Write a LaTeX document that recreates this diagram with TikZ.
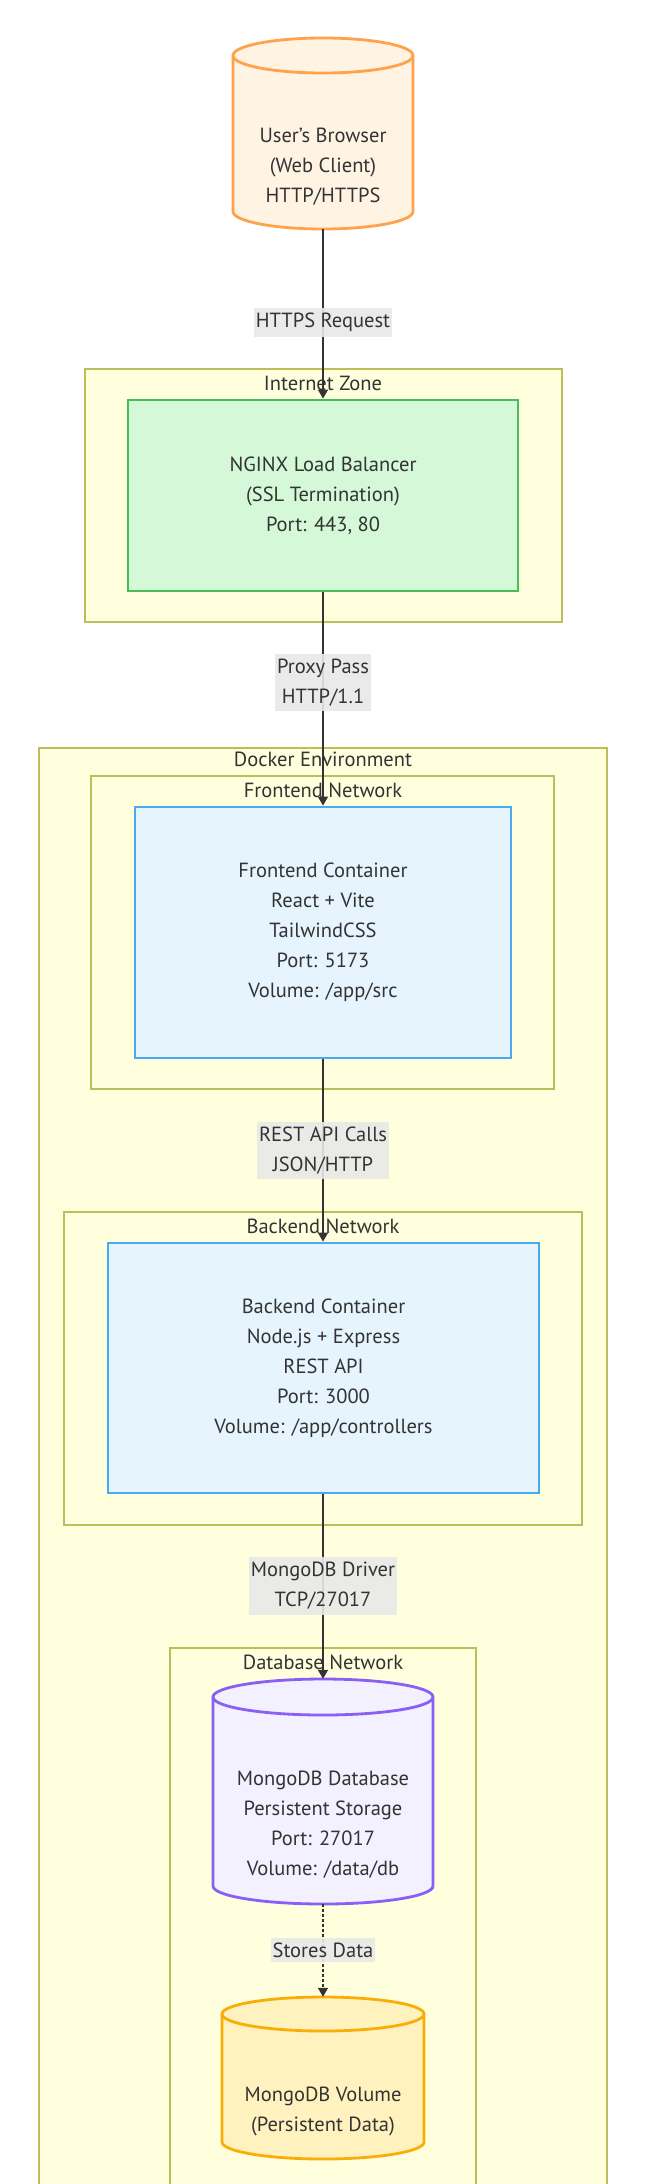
\documentclass[tikz,border=0pt]{standalone}
\usepackage{fontspec}
\setmainfont{PT Sans}
\usetikzlibrary{arrows.meta}
\definecolor{txt}{HTML}{333333}
\definecolor{clfill}{HTML}{FFFFDE}
\definecolor{clline}{HTML}{BDBD5A}
\definecolor{brfill}{HTML}{FFF3E4}
\definecolor{brline}{HTML}{FFA24A}
\definecolor{ngfill}{HTML}{D4F8D8}
\definecolor{ngline}{HTML}{48BE58}
\definecolor{ctfill}{HTML}{E5F4FD}
\definecolor{ctline}{HTML}{4AA8F4}
\definecolor{dbfill}{HTML}{F3F0FF}
\definecolor{dbline}{HTML}{8A5FF3}
\definecolor{vofill}{HTML}{FFF2BF}
\definecolor{voline}{HTML}{FBAD07}
\definecolor{lblbg}{HTML}{E8E8E8}
\newcommand\dbcyl[6]{%
  \path[#6] (#1,#3+#5) -- (#1,#4-#5)
    arc[start angle=180,end angle=0,x radius={(#2-#1)/2},y radius=#5]
    -- (#2,#3+#5)
    arc[start angle=0,end angle=-180,x radius={(#2-#1)/2},y radius=#5] -- cycle;
  \path[#6,fill=none] (#1,#3+#5)
    arc[start angle=180,end angle=0,x radius={(#2-#1)/2},y radius=#5];
}
\tikzset{
  base/.style={text=txt,font=\fontsize{20.5}{30}\selectfont,align=center,inner sep=0pt},
  cluster/.style={draw=clline,fill=clfill,line width=1.4pt},
  ctitle/.style={base},
  boxnode/.style={base,draw,line width=2.8pt,rectangle},
  ghost/.style={rectangle,inner sep=0pt},
  edge/.style={draw=txt,line width=1.3pt,-{Triangle[length=9pt,width=10pt]}},
  dotedge/.style={edge,dash pattern=on 2.5pt off 2.5pt},
  elabel/.style={base,fill=lblbg,fill opacity=0.9,text opacity=1,inner xsep=2pt,inner ysep=5pt},
}
\begin{document}
\begin{tikzpicture}[x=1pt,y=-1pt]
\useasboundingbox (0,0) rectangle (649,2184);
\fill[white] (0,0) rectangle (649,2184);
\clip (0,0) rectangle (649,2184);

% clusters
\draw[cluster] (85,369) rectangle (562,622);
\draw[cluster] (39,748) rectangle (607,2210);
\draw[cluster] (91,776) rectangle (554,1089);
\draw[cluster] (64,1212) rectangle (582,1525);
\draw[cluster] (170,1648) rectangle (476,2210);

\node[ctitle] (tInternet) at (323,383) {Internet Zone};
\node[ctitle] (tDocker) at (323,759) {Docker Environment};
\node[ctitle] (tFront) at (323,790) {Frontend Network};
\node[ctitle] (tBack) at (323,1226) {Backend Network};
\node[ctitle] (tDb) at (323,1662) {Database Network};

% cylinders
\dbcyl{233}{413}{38}{229}{17.5}{draw=brline,fill=brfill,line width=2.8pt}
\node[ghost,minimum width=180pt,minimum height=191pt] (browser) at (323,133.5) {};
\node[base] (browserText) at (323,167) {User's Browser\\(Web Client)\\HTTP/HTTPS};

\dbcyl{213}{433}{1679}{1904}{18}{draw=dbline,fill=dbfill,line width=2.8pt}
\node[ghost,minimum width=220pt,minimum height=225pt] (mongo) at (323,1791.5) {};
\node[base] (mongoText) at (323,1824.5) {MongoDB Database\\Persistent Storage\\Port: 27017\\Volume: /data/db};

\dbcyl{222}{424}{1997}{2159}{17}{draw=voline,fill=vofill,line width=2.8pt}
\node[ghost,minimum width=202pt,minimum height=162pt] (volume) at (323,2078) {};
\node[base] (volumeText) at (323,2111) {MongoDB Volume\\(Persistent Data)};

% boxes
\node[boxnode,draw=ngline,fill=ngfill,minimum width=390pt,minimum height=191pt] (nginx) at (323,495.5) {NGINX Load Balancer\\(SSL Termination)\\Port: 443, 80};
\node[boxnode,draw=ctline,fill=ctfill,minimum width=376pt,minimum height=251pt] (front) at (323,932.5) {Frontend Container\\React + Vite\\TailwindCSS\\Port: 5173\\Volume: /app/src};
\node[boxnode,draw=ctline,fill=ctfill,minimum width=431pt,minimum height=250pt] (back) at (323.5,1368) {Backend Container\\Node.js + Express\\REST API\\Port: 3000\\Volume: /app/controllers};

% edges
\draw[edge] (browser.south) -- (nginx.north);
\draw[edge] (nginx.south) -- (front.north);
\draw[edge] (front.south) -- (back.north -| front.south);
\draw[edge] (back.south -| front.south) -- (mongo.north);
\draw[dotedge] (mongo.south) -- (volume.north);

% edge labels
\node[elabel] (l1) at (323,322.5) {HTTPS Request};
\node[elabel] (l2) at (323,682.5) {Proxy Pass\\HTTP/1.1};
\node[elabel] (l3) at (323,1150.5) {REST API Calls\\JSON/HTTP};
\node[elabel] (l4) at (323,1586) {MongoDB Driver\\TCP/27017};
\node[elabel] (l5) at (323,1950) {Stores Data};
\end{tikzpicture}
\end{document}
